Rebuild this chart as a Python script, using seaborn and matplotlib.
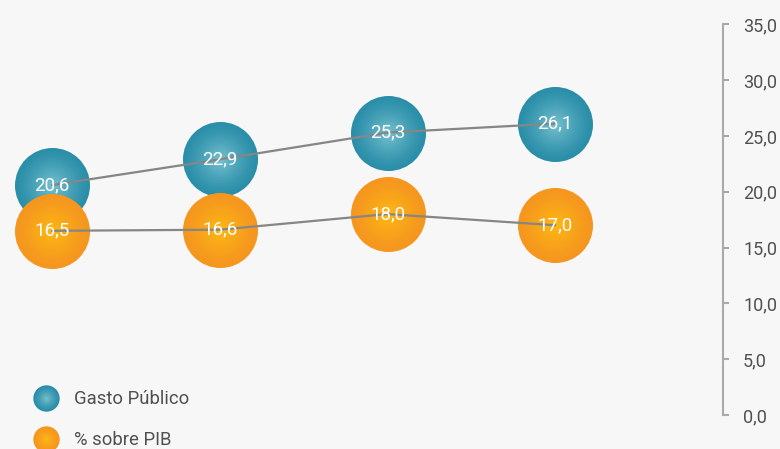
import numpy as np
import pandas as pd
import matplotlib
matplotlib.use("Agg")
import matplotlib.pyplot as plt
import seaborn as sns
from matplotlib.lines import Line2D
from matplotlib.colors import to_rgb
from matplotlib.legend_handler import HandlerTuple

# ---- data ----
periodos = ["1", "2", "3", "4"]
gasto_publico = [20.6, 22.9, 25.3, 26.1]
pct_pib = [16.5, 16.6, 18.0, 17.0]
series_names = ["Gasto Público", "% sobre PIB"]
y_ticks = [0, 5, 10, 15, 20, 25, 30, 35]

# ---- style ----
BG = "#f7f7f7"
blue_edge, blue_center = "#2a8ea9", "#74bfcd"
orange_edge, orange_center = "#f5961f", "#fdb813"
line_color = "#868686"
axis_color = "#aaaaaa"
text_color = "#505050"

sns.set_theme(style="white")
plt.rcParams['font.family'] = ['Roboto', 'DejaVu Sans']

fig = plt.figure(figsize=(7.8, 4.49), dpi=100, facecolor=BG)
ax = fig.add_axes([0, 34 / 449, 723 / 780, 390.7 / 449])
ax.set_facecolor(BG)

xpos = np.arange(len(periodos))
df = pd.DataFrame({
    "x": np.concatenate([xpos, xpos]),
    "valor": gasto_publico + pct_pib,
    "serie": [series_names[0]] * len(periodos) + [series_names[1]] * len(periodos),
})

D = 54.0  # bubble diameter in points
n_layers = 30


def layer_colors(edge, center, n):
    ce, cc = np.array(to_rgb(edge)), np.array(to_rgb(center))
    out = []
    for k in range(n):
        f = k / (n - 1)
        out.append((1 - 0.95 * f, tuple(ce + (cc - ce) * (f ** 1.3))))
    return out


def gradient_bubbles(sub, edge, center, z):
    for frac, col in layer_colors(edge, center, n_layers):
        d = D * frac
        sns.scatterplot(data=sub, x="x", y="valor", s=d ** 2, color=col,
                        linewidth=0, legend=False, ax=ax, zorder=z, clip_on=False)


gradient_bubbles(df[df.serie == series_names[0]], blue_edge, blue_center, 2)
gradient_bubbles(df[df.serie == series_names[1]], orange_edge, orange_center, 3)

sns.lineplot(data=df, x="x", y="valor", units="serie", estimator=None,
             color=line_color, linewidth=1.6, ax=ax, zorder=4, legend=False)

for s, vals in zip(series_names, [gasto_publico, pct_pib]):
    for x, v in zip(xpos, vals):
        ax.text(x, v, f"{v:.1f}".replace(".", ","), color="white", fontsize=13.5,
                ha="center", va="center", zorder=5)

ax.set_xlim(-0.31, 4.0)
ax.set_ylim(0, 35)
ax.set_xlabel("")
ax.set_ylabel("")
ax.set_xticks([])
ax.yaxis.tick_right()
ax.set_yticks(y_ticks)
ax.set_yticklabels([f"{t:.1f}".replace(".", ",") for t in y_ticks])
for side in ["top", "left", "bottom"]:
    ax.spines[side].set_visible(False)
ax.spines["right"].set_color(axis_color)
ax.spines["right"].set_linewidth(1.5)
ax.spines["right"].set_bounds(0, 35)
ax.tick_params(axis="y", direction="out", length=4.5, width=1.5, color=axis_color,
               labelsize=13, labelcolor=text_color, pad=10, right=True, left=False)
ax.grid(False)


def legend_handle(edge, center):
    return tuple(Line2D([], [], marker="o", ls="", markersize=19 * frac,
                        markerfacecolor=col, markeredgewidth=0)
                 for frac, col in layer_colors(edge, center, 15))


handles = [legend_handle(blue_edge, blue_center),
           legend_handle(orange_edge, orange_center)]
leg = fig.legend(handles, series_names, loc="upper left",
                 bbox_to_anchor=(32.5 / 780, 1 - 390 / 449), frameon=False,
                 fontsize=13.3, handlelength=1.5, handletextpad=0.73,
                 labelspacing=1.25, borderpad=0, borderaxespad=0,
                 handler_map={tuple: HandlerTuple(ndivide=1, pad=0)})
for t in leg.get_texts():
    t.set_color(text_color)

fig.savefig("out.png", dpi=100, facecolor=BG)
